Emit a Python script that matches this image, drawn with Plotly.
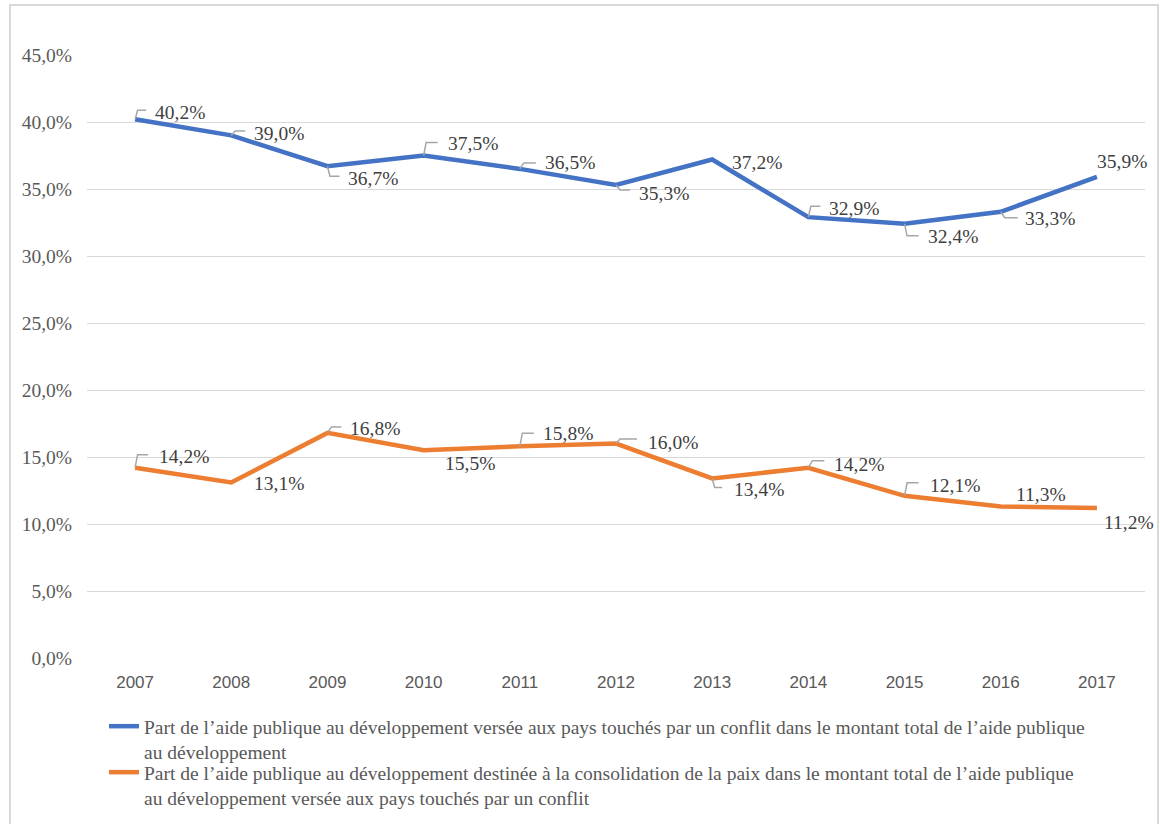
import plotly.graph_objects as go

years = ["2007", "2008", "2009", "2010", "2011", "2012", "2013", "2014", "2015", "2016", "2017"]
conflict_share = [40.2, 39.0, 36.7, 37.5, 36.5, 35.3, 37.2, 32.9, 32.4, 33.3, 35.9]
peace_share = [14.2, 13.1, 16.8, 15.5, 15.8, 16.0, 13.4, 14.2, 12.1, 11.3, 11.2]

name_conflict = ("Part de l’aide publique au développement versée aux pays touchés par un conflit "
                 "dans le montant total de l’aide publique<br>au développement")
name_peace = ("Part de l’aide publique au développement destinée à la consolidation de la paix "
              "dans le montant total de l’aide publique<br>au développement versée aux pays touchés par un conflit")

BLUE = "#4472C4"
ORANGE = "#ED7D31"
GRID = "#D9D9D9"
TXT = "#595959"
LBL = "#404040"
LEADER = "#A6A6A6"

# label placement (pixel offsets: dx to text left, dy to text centre (up +), leader (h, w) or None)
blue_place = [(18, 7, (9, 11)), (21, 2, (4.5, 14)), (19, -12, (-10, 12)), (22, 12.5, (13, 14)),
              (23, 6, (6, 16)), (21, -9, (-5, 14)), (18, -2.5, None), (19, 9, (11, 12)),
              (21, -13, (-12, 14)), (22, -7, (-6, 17)), (-2, 15, None)]
orange_place = [(22, 11, (13, 13)), (21, -1.5, None), (21, 4, (6, 14)), (19, -13, None),
                (21, 13, (13, 14)), (30, 1.5, (4.5, 21)), (20, -10.6, (-9, 10)), (24, 3.7, (7, 16)),
                (23, 10, (13, 14)), (13, 11.6, None), (5, -15, None)]

fig = go.Figure()
fig.add_trace(go.Scatter(x=years, y=[v / 100 for v in conflict_share], mode="lines",
                         line=dict(color=BLUE, width=4.5), name=name_conflict, legend="legend"))
fig.add_trace(go.Scatter(x=years, y=[v / 100 for v in peace_share], mode="lines",
                         line=dict(color=ORANGE, width=4.5), name=name_peace, legend="legend2"))

annotations = []
shapes = []
for series, place in ((conflict_share, blue_place), (peace_share, orange_place)):
    for i, (v, (dx, dy, leader)) in enumerate(zip(series, place)):
        annotations.append(dict(
            x=i, y=v / 100, xref="x", yref="y", showarrow=False,
            text=f"{v:.1f}%".replace(".", ","), xanchor="left", yanchor="middle",
            xshift=dx, yshift=dy,
            font=dict(family="Liberation Serif", size=19.5, color=LBL)))
        if leader:
            h, w = leader
            a = 2.5 if abs(h) > 7 else 4
            shapes.append(dict(
                type="path", xref="x", yref="y", xsizemode="pixel", ysizemode="pixel",
                xanchor=i, yanchor=v / 100,
                path=f"M0,0 L{a},{h} L{w},{h}",
                line=dict(color=LEADER, width=1.5)))

# outer chart border
L, R, T, B = 87, 15, 55, 166
W, H = 1160, 824
pw, ph = W - L - R, H - T - B
shapes.append(dict(type="rect", xref="paper", yref="paper", layer="below",
                   x0=(10 - L) / pw, x1=(1158 - L) / pw,
                   y0=(H - B - 840) / ph, y1=(H - B - 5) / ph,
                   line=dict(color=GRID, width=2), fillcolor="rgba(0,0,0,0)"))

legend_style = dict(orientation="v", xanchor="left", yanchor="top", valign="top",
                    font=dict(family="Liberation Serif", size=19.5, color=TXT),
                    bgcolor="rgba(0,0,0,0)")

fig.update_layout(
    width=W, height=H,
    margin=dict(l=L, r=R, t=T, b=B, autoexpand=False),
    paper_bgcolor="white", plot_bgcolor="white",
    separators=", ",
    showlegend=True,
    legend=dict(legend_style, x=(104 - L) / pw, y=(H - B - 707) / ph),
    legend2=dict(legend_style, x=(104 - L) / pw, y=(H - B - 753) / ph),
    xaxis=dict(type="category", range=[-0.5, 10.5], showgrid=False, zeroline=False,
               showline=False, ticks="", ticklabelstandoff=12,
               tickfont=dict(family="Liberation Sans", size=17, color=TXT)),
    yaxis=dict(range=[0, 0.45], tickvals=[i * 0.05 for i in range(10)], tickformat=".1%",
               showgrid=True, gridcolor=GRID, gridwidth=1.3, zeroline=False, showline=False,
               ticks="", ticklabelstandoff=14,
               tickfont=dict(family="Liberation Serif", size=19.5, color=TXT)),
    annotations=annotations,
    shapes=shapes,
)

fig.write_html("out.html")
